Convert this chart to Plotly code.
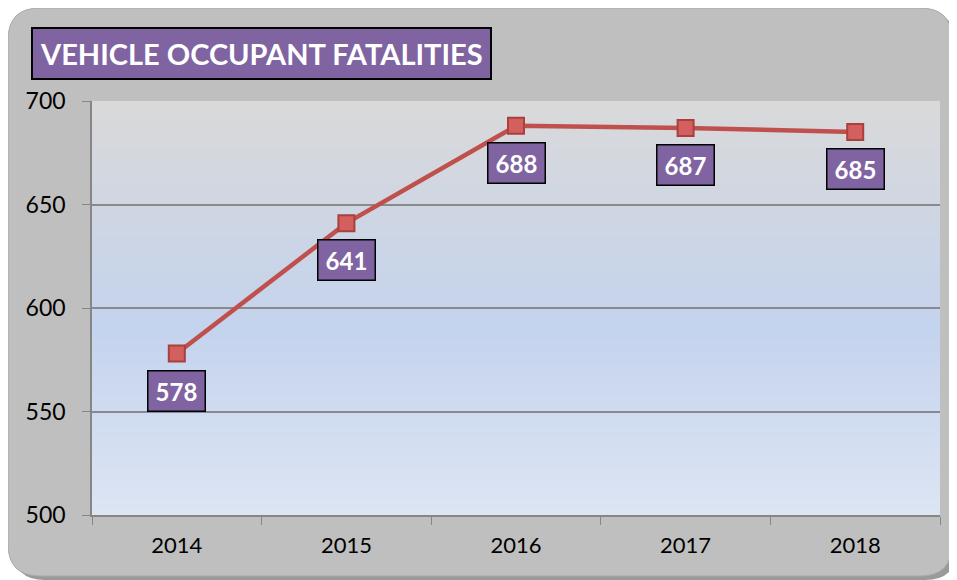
import plotly.graph_objects as go

years = ["2014", "2015", "2016", "2017", "2018"]
fatalities = [578, 641, 688, 687, 685]
y_ticks = [500, 550, 600, 650, 700]
title_text = "VEHICLE OCCUPANT FATALITIES"

OFF = 8  # page body margin
W, H = 957 - OFF, 580 - OFF
L, R, T, B = 92 - OFF, 940 - OFF, 101 - OFF, 515 - OFF  # plot area pixels (figure coords)


def px(x):
    return (x - OFF - L) / (R - L)


def py(y):
    return (B - (y - OFF)) / (B - T)


def hex2rgb(h):
    h = h.lstrip("#")
    return tuple(int(h[i:i + 2], 16) for i in (0, 2, 4))


def lerp(c1, c2, t):
    a, b = hex2rgb(c1), hex2rgb(c2)
    return "rgb(%d,%d,%d)" % tuple(round(a[i] + (b[i] - a[i]) * t) for i in range(3))


def rounded(x0, y0, x1, y1, r):
    rx = r / (R - L)
    ry = r / (B - T)
    X0, X1 = px(x0), px(x1)
    Y0, Y1 = py(y0), py(y1)
    return (f"M {X0+rx},{Y0} L {X1-rx},{Y0} Q {X1},{Y0} {X1},{Y0-ry} "
            f"L {X1},{Y1+ry} Q {X1},{Y1} {X1-rx},{Y1} L {X0+rx},{Y1} "
            f"Q {X0},{Y1} {X0},{Y1+ry} L {X0},{Y0-ry} Q {X0},{Y0} {X0+rx},{Y0} Z")


shapes = []
shapes.append(dict(type="path", xref="paper", yref="paper", layer="below",
                   path=rounded(13, 13, 957, 580, 32),
                   fillcolor="#9a9a9a", line=dict(width=0)))
shapes.append(dict(type="path", xref="paper", yref="paper", layer="below",
                   path=rounded(8, 8, 952, 576, 32),
                   fillcolor="#bfbfbf", line=dict(color="#a8a8a8", width=1)))

stops = [(0.0, "#dde5f3"), (0.45, "#c4d3ee"), (1.0, "#d9d9d9")]
n = 80
for i in range(n):
    t = (i + 0.5) / n
    for j in range(len(stops) - 1):
        if stops[j][0] <= t <= stops[j + 1][0]:
            f = (t - stops[j][0]) / (stops[j + 1][0] - stops[j][0])
            col = lerp(stops[j][1], stops[j + 1][1], f)
            break
    shapes.append(dict(type="rect", xref="paper", yref="paper", layer="below",
                       x0=0, x1=1, y0=i / n, y1=min(1, (i + 1) / n + 0.002),
                       fillcolor=col, line=dict(width=0)))

fig = go.Figure()
fig.add_trace(go.Scatter(
    x=years, y=fatalities, mode="lines+markers",
    line=dict(color="#c0504d", width=4.5),
    marker=dict(symbol="square", size=16, color="#d45f5f",
                line=dict(color="#a8403d", width=2)),
    hoverinfo="skip", showlegend=False))

FONT = "Lato, Open Sans, sans-serif"
annotations = []
for i, v in enumerate(fatalities):
    annotations.append(dict(
        x=i, y=v, xref="x", yref="y", text=f"<b>{v}</b>", showarrow=False,
        xanchor="center", yanchor="middle", width=48, height=31, valign="middle",
        yshift=-37, font=dict(family=FONT, size=24, color="white"),
        bgcolor="#8064a2", bordercolor="black", borderwidth=1.5, borderpad=4))

annotations.append(dict(
    x=px(261), y=py(54), xref="paper", yref="paper", text=f"<b>{title_text}</b>",
    xanchor="center", yanchor="middle",
    showarrow=False, font=dict(family=FONT, size=29, color="white"),
    bgcolor="#8064a2", bordercolor="black", borderwidth=2, borderpad=7))

fig.update_layout(
    width=W, height=H,
    margin=dict(l=L, r=W - R, t=T, b=H - B),
    paper_bgcolor="white", plot_bgcolor="rgba(0,0,0,0)",
    shapes=shapes, annotations=annotations,
    font=dict(family=FONT, size=22, color="black"),
    xaxis=dict(type="category", tickson="boundaries", ticks="outside", ticklen=8,
               tickcolor="#868686", showline=True, linecolor="#868686", linewidth=1.5,
               showgrid=False, tickfont=dict(size=22), range=[-0.5, 4.5],
               ticklabelstandoff=10),
    yaxis=dict(range=[500, 700], tickvals=y_ticks, ticks="outside", ticklen=8,
               tickcolor="#868686", showline=True, linecolor="#868686", linewidth=1.5,
               showgrid=True, gridcolor="#8a8a8a", gridwidth=1.5, zeroline=False,
               tickfont=dict(size=23), ticklabelstandoff=12),
)

fig.write_html("out.html")
